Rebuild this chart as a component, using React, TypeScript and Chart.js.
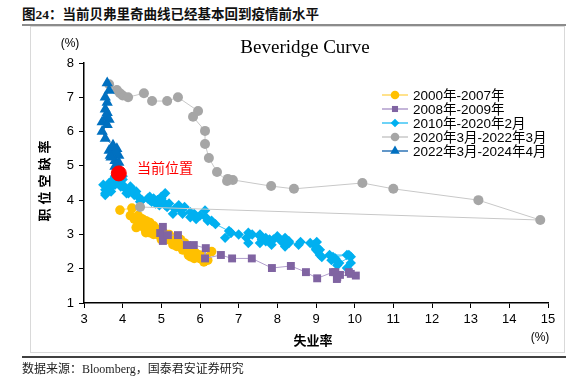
import React, { useEffect, useRef } from 'react';
import { Chart, registerables } from 'chart.js';
Chart.register(...registerables);

// ---------- data ----------
const xTicks = [3, 4, 5, 6, 7, 8, 9, 10, 11, 12, 13, 14, 15];
const yTicks = [1, 2, 3, 4, 5, 6, 7, 8];

const seriesNames = ['2000年-2007年', '2008年-2009年', '2010年-2020年2月', '2020年3月-2022年3月', '2022年3月-2024年4月'];

const u2000 = [3.93, 4.24, 4.2, 4.3, 4.4, 4.35, 4.55, 4.6, 4.9, 5.0, 5.3, 5.55, 5.7,
  5.7, 5.75, 5.7, 5.9, 5.8, 5.85, 5.8, 5.75, 5.7, 5.75, 5.85, 6.0,
  5.8, 5.9, 5.85, 6.0, 6.1, 6.3, 6.2, 6.1, 6.1, 6.0, 5.85, 5.7,
  5.7, 5.6, 5.8, 5.6, 5.6, 5.6, 5.5, 5.4, 5.4, 5.5, 5.4, 5.35,
  5.3, 5.4, 5.2, 5.15, 5.1, 5.0, 5.0, 4.9, 5.0, 5.0, 5.05, 4.9,
  4.7, 4.8, 4.7, 4.7, 4.6, 4.6, 4.7, 4.7, 4.5, 4.45, 4.5, 4.4,
  4.6, 4.5, 4.4, 4.5, 4.45, 4.6, 4.7, 4.6, 4.7, 4.75, 4.8, 5.0];
const v2000 = [3.71, 3.77, 3.55, 3.45, 3.35, 3.2, 3.2, 3.05, 3.0, 2.85, 2.7, 2.55, 2.45,
  2.5, 2.4, 2.55, 2.45, 2.5, 2.4, 2.45, 2.55, 2.45, 2.35, 2.4, 2.3,
  2.4, 2.35, 2.3, 2.4, 2.35, 2.5, 2.25, 2.2, 2.35, 2.3, 2.45, 2.4,
  2.55, 2.6, 2.5, 2.7, 2.6, 2.75, 2.7, 2.65, 2.75, 2.85, 2.8, 2.9,
  2.8, 2.9, 3.0, 2.85, 3.0, 3.05, 2.95, 3.1, 3.1, 3.0, 3.05, 3.15,
  3.2, 3.25, 3.3, 3.15, 3.3, 3.4, 3.35, 3.2, 3.45, 3.4, 3.3, 3.35,
  3.3, 3.4, 3.55, 3.45, 3.35, 3.2, 3.25, 3.1, 3.05, 3.15, 3.0, 2.95];

const u2008 = [5.04, 4.97, 5.04, 5.17, 5.43, 5.66, 5.84, 6.15, 6.13, 6.54, 6.83, 7.34,
  7.86, 8.35, 8.74, 9.03, 9.44, 9.54, 9.62, 9.5, 9.85, 10.03, 9.9, 9.55];
const v2008 = [3.22, 3.04, 2.81, 2.98, 2.98, 2.69, 2.69, 2.6, 2.3, 2.4, 2.3, 2.3,
  2.02, 2.08, 1.9, 1.72, 1.9, 1.7, 1.82, 1.9, 1.9, 1.8, 1.85, 1.75];

const u2010 = [9.8, 9.9, 9.85, 9.9, 9.6, 9.45, 9.4, 9.55, 9.5, 9.44, 9.8, 9.35,
  9.15, 9.05, 9.0, 9.1, 9.05, 9.1, 9.0, 9.02, 8.95, 8.85, 8.6, 8.55,
  8.3, 8.3, 8.2, 8.15, 8.2, 8.2, 8.2, 8.1, 7.8, 7.85, 7.7, 7.9,
  8.0, 7.7, 7.55, 7.6, 7.55, 7.55, 7.35, 7.25, 7.2, 7.25, 7.0, 6.8,
  6.65, 6.8, 6.75, 6.4, 6.3, 6.15, 6.2, 6.13, 6.0, 5.85, 5.9, 5.75,
  5.75, 5.6, 5.5, 5.45, 5.55, 5.35, 5.3, 5.2, 5.15, 5.05, 5.1, 5.0,
  4.95, 4.9, 5.0, 5.1, 4.8, 4.9, 4.85, 4.95, 5.0, 4.9, 4.7, 4.7,
  4.75, 4.65, 4.5, 4.4, 4.45, 4.3, 4.35, 4.4, 4.25, 4.15, 4.2, 4.1,
  4.05, 4.1, 4.0, 3.95, 3.85, 4.0, 3.85, 3.9, 3.75, 3.8, 3.85, 3.95,
  4.0, 3.8, 3.8, 3.65, 3.6, 3.65, 3.7, 3.7, 3.55, 3.6, 3.55, 3.6,
  3.55, 3.5];
const v2010 = [2.02, 2.17, 2.4, 2.35, 2.17, 2.3, 2.25, 2.1, 2.3, 2.34, 2.4, 2.4,
  2.34, 2.5, 2.55, 2.4, 2.6, 2.55, 2.6, 2.78, 2.7, 2.75, 2.78, 2.7,
  2.8, 2.75, 2.85, 2.8, 2.9, 2.75, 2.65, 2.8, 2.85, 2.7, 2.9, 2.85,
  2.95, 2.8, 3.0, 2.85, 2.75, 2.95, 3.0, 3.05, 2.9, 2.75, 3.0, 3.05,
  2.9, 3.05, 3.1, 3.3, 3.4, 3.5, 3.4, 3.7, 3.55, 3.6, 3.45, 3.65,
  3.5, 3.8, 3.7, 3.85, 3.6, 3.75, 3.6, 3.9, 3.8, 3.95, 3.85, 3.95,
  3.85, 4.0, 4.1, 4.2, 4.05, 4.0, 3.9, 4.0, 4.05, 3.95, 4.0, 4.1,
  3.95, 4.05, 4.0, 4.1, 3.95, 4.15, 4.25, 4.1, 4.3, 4.2, 4.4, 4.3,
  4.35, 4.2, 4.45, 4.4, 4.55, 4.6, 4.5, 4.65, 4.6, 4.7, 4.75, 4.8,
  4.7, 4.55, 4.45, 4.5, 4.4, 4.3, 4.4, 4.25, 4.2, 4.35, 4.15, 4.3,
  4.3, 4.45];

const u2020 = [4.45, 14.8, 13.2, 11.0, 10.2, 8.43, 7.84, 6.85, 6.72, 6.7, 6.44, 6.23, 6.13,
  6.13, 5.82, 5.95, 5.43, 5.15, 4.76, 4.55, 4.14, 4.0, 3.93, 3.85, 3.65];
const v2020 = [3.8, 3.42, 4.0, 4.33, 4.5, 4.33, 4.41, 4.59, 4.62, 4.56, 4.82, 5.23, 5.64,
  6.02, 6.43, 6.6, 7.0, 6.89, 6.89, 7.12, 7.0, 7.05, 7.12, 7.21, 7.38];

const u2022 = [3.6, 3.65, 3.55, 3.6, 3.55, 3.6, 3.58, 3.65, 3.47, 3.6, 3.47, 3.55, 3.75,
  3.65, 3.85, 3.68, 3.9, 3.8, 3.85, 3.82, 3.75, 3.7, 3.9, 3.8, 3.85, 3.9];
const v2022 = [7.42, 7.2, 7.0, 6.85, 6.65, 6.55, 6.43, 6.35, 6.28, 6.2, 6.0, 5.8, 5.6,
  5.45, 5.5, 5.3, 5.3, 5.15, 5.05, 5.4, 5.55, 5.25, 5.1, 4.98, 5.0, 4.85];

const currentU = [3.9];
const currentV = [4.78];
const currentLabel = '当前位置';

// ---------- helpers ----------
const pts = (xs: number[], ys: number[]) => xs.map((x, i) => ({ x, y: ys[i] }));

const COLORS = [
  { marker: '#FFC000', line: '#FFD966', style: 'circle', r: 4.8 },
  { marker: '#8064A2', line: '#B09DCC', style: 'rect', r: 5.6 },
  { marker: '#00B0F0', line: '#3DC4F5', style: 'rectRot', r: 5.2 },
  { marker: '#A6A6A6', line: '#C8C8C8', style: 'circle', r: 5 },
  { marker: '#0070C0', line: '#2E75B6', style: 'triangle', r: 6.5 },
];

function drawMarker(ctx: CanvasRenderingContext2D, style: string, x: number, y: number, r: number, color: string) {
  ctx.save();
  ctx.fillStyle = color;
  ctx.beginPath();
  if (style === 'circle') {
    ctx.arc(x, y, r, 0, Math.PI * 2);
  } else if (style === 'rect') {
    const s = r * Math.SQRT1_2;
    ctx.rect(x - s, y - s, 2 * s, 2 * s);
  } else if (style === 'rectRot') {
    ctx.moveTo(x, y - r); ctx.lineTo(x + r, y); ctx.lineTo(x, y + r); ctx.lineTo(x - r, y); ctx.closePath();
  } else if (style === 'triangle') {
    const h = r * 1.5;
    ctx.moveTo(x, y - h * 2 / 3); ctx.lineTo(x + r * 0.87, y + h / 3); ctx.lineTo(x - r * 0.87, y + h / 3); ctx.closePath();
  }
  ctx.fill();
  ctx.restore();
}

const textPlugin = {
  id: 'texts',
  afterDraw(chart: any) {
    const ctx: CanvasRenderingContext2D = chart.ctx;
    ctx.save();
    ctx.fillStyle = '#000';
    ctx.textBaseline = 'middle';
    ctx.textAlign = 'center';
    ctx.font = '19px "Liberation Serif", serif';
    ctx.fillText('Beveridge Curve', 305, 48);

    ctx.font = '12px "Liberation Sans", "Noto Sans CJK SC", sans-serif';
    ctx.fillText('(%)', 70, 44);
    ctx.fillText('(%)', 540, 338);

    ctx.font = 'bold 13px "Noto Sans CJK SC", sans-serif';
    ctx.fillText('失业率', 313, 340);
    // vertical y-axis title, rotated, with spacing between characters
    ctx.save();
    ctx.translate(44, 181);
    ctx.rotate(-Math.PI / 2);
    const yTitle = '职位空缺率';
    const step = 17;
    for (let i = 0; i < yTitle.length; i++) {
      ctx.fillText(yTitle[i], (i - (yTitle.length - 1) / 2) * step, 0);
    }
    ctx.restore();

    ctx.fillStyle = '#FF0000';
    ctx.font = '14px "Noto Sans CJK SC", sans-serif';
    ctx.textAlign = 'left';
    ctx.fillText(currentLabel, 137, 168);

    // legend
    const rows = [95, 109, 123, 137, 151];
    ctx.font = '13.5px "Liberation Sans", "Noto Sans CJK SC", sans-serif';
    seriesNames.forEach((name, i) => {
      const y = rows[i];
      const c = COLORS[i];
      ctx.strokeStyle = c.line;
      ctx.lineWidth = 1.5;
      ctx.beginPath();
      ctx.moveTo(382, y);
      ctx.lineTo(408, y);
      ctx.stroke();
      drawMarker(ctx, c.style, 395, y, c.style === 'triangle' ? 5.5 : 4.3, c.marker);
      ctx.fillStyle = '#000';
      ctx.fillText(name, 413, y + 1);
    });
    ctx.restore();
  },
};

export default function App() {
  const ref = useRef<HTMLCanvasElement>(null);
  useEffect(() => {
    if (!ref.current) return;
    const mk = (i: number, xs: number[], ys: number[], order: number) => ({
      label: seriesNames[i],
      data: pts(xs, ys),
      showLine: true,
      borderColor: COLORS[i].line,
      borderWidth: 1,
      backgroundColor: COLORS[i].marker,
      pointBackgroundColor: COLORS[i].marker,
      pointBorderColor: COLORS[i].marker,
      pointBorderWidth: 0,
      pointStyle: COLORS[i].style,
      pointRadius: COLORS[i].r,
      order,
    });
    const chart = new Chart(ref.current, {
      type: 'scatter',
      data: {
        datasets: [
          {
            label: currentLabel,
            data: pts(currentU, currentV),
            showLine: false,
            pointBackgroundColor: '#FF0000',
            pointBorderColor: '#FF0000',
            pointRadius: 7.5,
            pointStyle: 'circle',
            order: 0,
          } as any,
          mk(4, u2022, v2022, 1),
          mk(3, u2020, v2020, 2),
          mk(1, u2008, v2008, 3),
          mk(2, u2010, v2010, 4),
          mk(0, u2000, v2000, 5),
        ],
      },
      options: {
        animation: false,
        responsive: false,
        maintainAspectRatio: false,
        layout: { padding: { left: 0, right: 39, top: 63, bottom: 44 } },
        plugins: { legend: { display: false }, title: { display: false }, tooltip: { enabled: false } },
        scales: {
          x: {
            type: 'linear',
            min: 3,
            max: 15,
            afterBuildTicks: (s: any) => { s.ticks = xTicks.map((v) => ({ value: v })); },
            afterFit: (s: any) => { s.height = 30; },
            grid: { drawOnChartArea: false, tickLength: 5, color: '#000' },
            border: { color: '#000', width: 1.5 },
            ticks: { color: '#000', padding: 4, font: { family: '"Liberation Sans", sans-serif', size: 13 } },
          },
          y: {
            type: 'linear',
            min: 1,
            max: 8,
            afterBuildTicks: (s: any) => { s.ticks = yTicks.map((v) => ({ value: v })); },
            afterFit: (s: any) => { s.width = 84; },
            grid: { drawOnChartArea: false, tickLength: 5, color: '#000' },
            border: { color: '#000', width: 1.5 },
            ticks: { color: '#000', padding: 5, font: { family: '"Liberation Sans", sans-serif', size: 13 } },
          },
        },
      },
      plugins: [textPlugin],
    } as any);
    return () => chart.destroy();
  }, []);

  return (
    <div style={{ position: 'fixed', left: 0, top: 0, width: 587, height: 377, background: '#fff', overflow: 'hidden' }}>
      <div style={{ position: 'absolute', left: 22, top: 3, fontFamily: '"Liberation Serif", "Noto Sans CJK SC", serif', fontWeight: 'bold', fontSize: 13.5, color: '#111', whiteSpace: 'nowrap' }}>
        图24：当前贝弗里奇曲线已经基本回到疫情前水平
      </div>
      <div style={{ position: 'absolute', left: 22, top: 24, width: 544, height: 2, background: '#8c8c8c' }} />
      <div style={{ position: 'absolute', left: 30, top: 26, width: 535, height: 327, border: '1px solid #d9d9d9', boxSizing: 'border-box' }} />
      <canvas ref={ref} width={587} height={377} style={{ position: 'absolute', left: 0, top: 0, width: 587, height: 377 }} />
      <div style={{ position: 'absolute', left: 22, top: 356, width: 544, height: 1.5, background: '#404040' }} />
      <div style={{ position: 'absolute', left: 22, top: 359, fontFamily: '"Liberation Serif", "Noto Sans CJK SC", serif', fontSize: 12, color: '#222', whiteSpace: 'nowrap' }}>
        数据来源：Bloomberg，国泰君安证券研究
      </div>
    </div>
  );
}
